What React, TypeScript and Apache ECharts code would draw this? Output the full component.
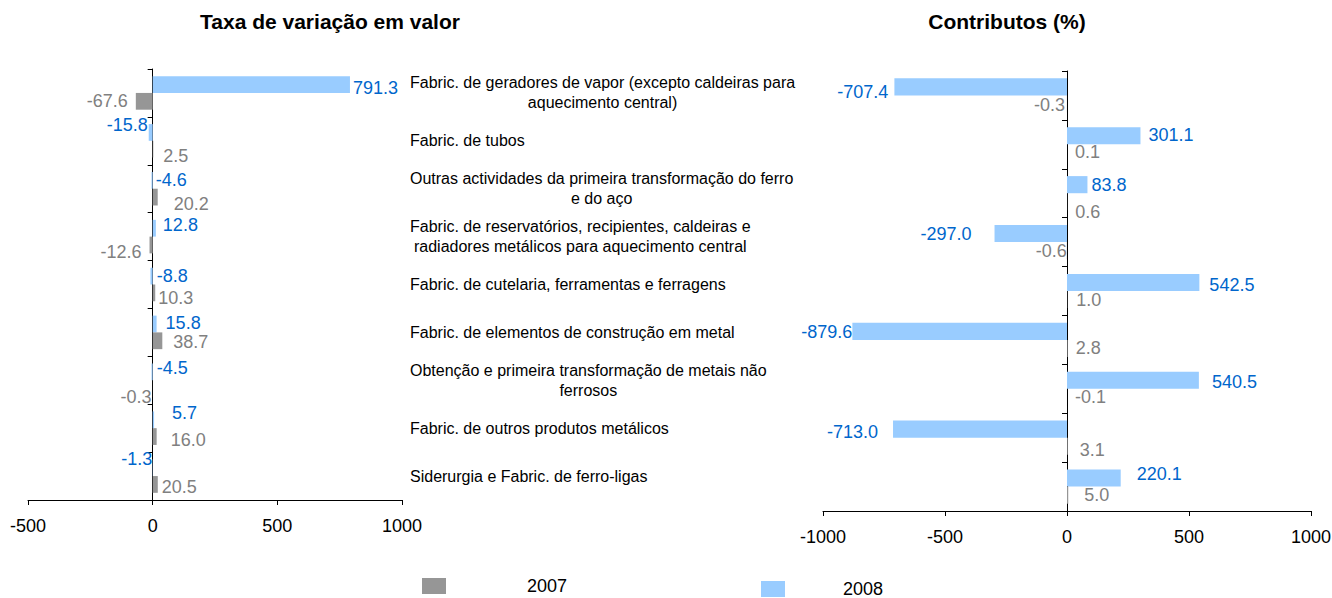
import React, { useEffect, useRef } from "react";
import * as echarts from "echarts";

const FONT = '"Liberation Sans", Arial, sans-serif';

const categories = [
  "Fabric. de geradores de vapor (excepto caldeiras para\naquecimento central)",
  "Fabric. de tubos",
  "Outras actividades da primeira transformação do ferro\ne do aço",
  "Fabric. de reservatórios, recipientes, caldeiras e\nradiadores metálicos para aquecimento central",
  "Fabric. de cutelaria, ferramentas e ferragens",
  "Fabric. de elementos de construção em metal",
  "Obtenção e primeira transformação de metais não\nferrosos",
  "Fabric. de outros produtos metálicos",
  "Siderurgia e Fabric. de ferro-ligas",
];

const variacao2007 = [-67.6, 2.5, 20.2, -12.6, 10.3, 38.7, -0.3, 16.0, 20.5];
const variacao2008 = [791.3, -15.8, -4.6, 12.8, -8.8, 15.8, -4.5, 5.7, -1.3];
const contributos2007 = [-0.3, 0.1, 0.6, -0.6, 1.0, 2.8, -0.1, 3.1, 5.0];
const contributos2008 = [-707.4, 301.1, 83.8, -297.0, 542.5, -879.6, 540.5, -713.0, 220.1];

const variacaoTicks = [-500, 0, 500, 1000];
const contributosTicks = [-1000, -500, 0, 500, 1000];

const seriesNames = ["2007", "2008"];
const titles = ["Taxa de variação em valor", "Contributos (%)"];

// label placement (side, distance, vertical shift) — styling only
type Place = [string, number, number];
const PLACE_L08: Place[] = [
  ["right", 3, 3], ["left", 1, -7], ["right", 3, 0], ["right", 7, -3], ["right", 4, 0],
  ["right", 9, -1], ["right", 4, -4], ["right", 18, -7], ["left", 0, -9],
];
const PLACE_L07: Place[] = [
  ["left", 8, 0], ["right", 10, 7], ["right", 16, 7], ["left", 8, 7], ["right", 3, 5],
  ["right", 11, 1], ["left", 1, 8], ["right", 14, 3], ["right", 4, 3],
];
const PLACE_R08: Place[] = [
  ["left", 6, 5], ["right", 8, -1], ["right", 4, 0], ["left", 23, 0], ["right", 10, 3],
  ["left", 0, 1], ["right", 13, 2], ["left", 15, 3], ["right", 16, -4],
];
const PLACE_R07: Place[] = [
  ["left", 2, 1], ["right", 8, -1], ["right", 8, 10], ["left", 0, 0], ["right", 9, 0],
  ["right", 8, 0], ["right", 8, 0], ["right", 12, 4], ["right", 16, 0],
];

const BLUE = "#99CCFF";
const GRAY = "#969696";
const BLUE_TEXT = "#0066CC";
const GRAY_TEXT = "#808080";

function barSeries(
  name: string,
  values: number[],
  place: Place[],
  color: string,
  labelColor: string,
  xIdx: number,
  yIdx: number
) {
  return {
    type: "bar",
    name,
    xAxisIndex: xIdx,
    yAxisIndex: yIdx,
    barGap: "0%",
    barCategoryGap: "30%",
    itemStyle: { color },
    label: {
      show: true,
      color: labelColor,
      fontSize: 18,
      fontFamily: FONT,
      formatter: (p: any) => Number(p.value).toFixed(1),
    },
    data: values.map((v, i) => ({
      value: v,
      label: {
        position: place[i][0],
        distance: place[i][1],
        offset: [0, place[i][2]],
      },
    })),
  };
}

function valueAxis(gridIndex: number, ticks: number[]) {
  return {
    type: "value",
    gridIndex,
    min: ticks[0],
    max: ticks[ticks.length - 1],
    interval: ticks[1] - ticks[0],
    axisLine: { show: true, onZero: false, lineStyle: { color: "#000", width: 1 } },
    axisTick: { show: true, length: 5, lineStyle: { color: "#000" } },
    splitLine: { show: false },
    axisLabel: {
      fontSize: 18,
      color: "#000",
      margin: 17,
      fontFamily: FONT,
      formatter: (v: number) => String(v),
    },
  };
}

function catAxis(gridIndex: number) {
  return {
    type: "category",
    gridIndex,
    data: categories,
    inverse: true,
    axisLine: { show: true, onZero: true, lineStyle: { color: "#000", width: 1 } },
    axisTick: { show: true, length: 5, lineStyle: { color: "#000" } },
    axisLabel: { show: false },
    splitLine: { show: false },
  };
}

const option: any = {
  animation: false,
  backgroundColor: "#fff",
  textStyle: { fontFamily: FONT },
  title: [
    {
      text: titles[0],
      left: 330,
      top: 11,
      padding: 0,
      textAlign: "center",
      textStyle: { fontSize: 21, fontWeight: "bold", color: "#000", fontFamily: FONT },
    },
    {
      text: titles[1],
      left: 1007,
      top: 11,
      padding: 0,
      textAlign: "center",
      textStyle: { fontSize: 21, fontWeight: "bold", color: "#000", fontFamily: FONT },
    },
  ],
  legend: [
    {
      data: [seriesNames[0]],
      left: 422,
      top: 577,
      padding: 0,
      icon: "rect",
      itemWidth: 24,
      itemHeight: 16,
      selectedMode: false,
      textStyle: { fontSize: 18, color: "#000", fontFamily: FONT, padding: [0, 0, 0, 76] },
    },
    {
      data: [seriesNames[1]],
      left: 761,
      top: 580,
      padding: 0,
      icon: "rect",
      itemWidth: 24,
      itemHeight: 16,
      selectedMode: false,
      textStyle: { fontSize: 18, color: "#000", fontFamily: FONT, padding: [0, 0, 0, 53] },
    },
  ],
  grid: [
    { left: 28, right: 930, top: 69, bottom: 98, containLabel: false, outerBoundsMode: "none" },
    { left: 823, right: 21, top: 71, bottom: 87, containLabel: false, outerBoundsMode: "none" },
  ],
  xAxis: [valueAxis(0, variacaoTicks), valueAxis(1, contributosTicks)],
  yAxis: [
    catAxis(0),
    {
      type: "category",
      gridIndex: 0,
      data: categories,
      inverse: true,
      position: "right",
      axisLine: { show: false, onZero: false },
      axisTick: { show: false },
      splitLine: { show: false },
      axisLabel: {
        show: true,
        margin: 8,
        align: "left",
        color: "#000",
        fontSize: 16,
        fontFamily: FONT,
        formatter: (v: string) =>
          v
            .split("\n")
            .map((l) => `{c|${l}}`)
            .join("\n"),
        rich: {
          c: { align: "center", fontSize: 16, lineHeight: 20, color: "#000", fontFamily: FONT },
        },
      },
    },
    catAxis(1),
  ],
  series: [
    barSeries(seriesNames[1], variacao2008, PLACE_L08, BLUE, BLUE_TEXT, 0, 0),
    barSeries(seriesNames[0], variacao2007, PLACE_L07, GRAY, GRAY_TEXT, 0, 0),
    barSeries(seriesNames[1], contributos2008, PLACE_R08, BLUE, BLUE_TEXT, 1, 2),
    barSeries(seriesNames[0], contributos2007, PLACE_R07, GRAY, GRAY_TEXT, 1, 2),
  ],
};

export default function App() {
  const ref = useRef<HTMLDivElement>(null);
  useEffect(() => {
    if (!ref.current) return;
    const chart = echarts.init(ref.current, null, { renderer: "svg" });
    chart.setOption(option);
    return () => chart.dispose();
  }, []);
  return (
    <div
      ref={ref}
      style={{ position: "fixed", left: 0, top: 0, width: 1332, height: 598, background: "#fff" }}
    />
  );
}
